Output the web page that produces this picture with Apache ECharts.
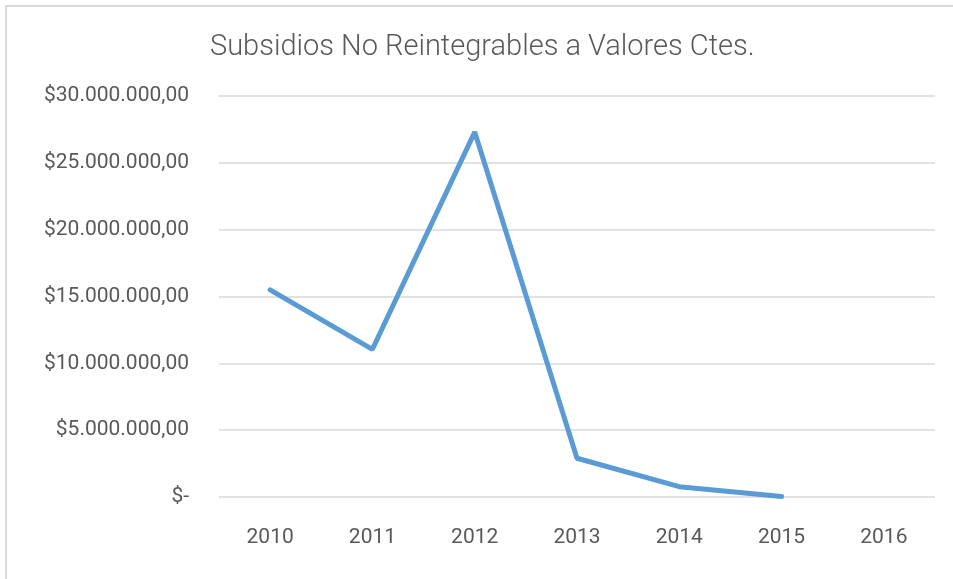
<!DOCTYPE html>
<html lang="es">
<head>
    <meta charset="UTF-8">
    <title>Subsidios No Reintegrables</title>
    <script src="https://cdn.jsdelivr.net/npm/echarts@6/dist/echarts.min.js"></script>
    <style>
        html, body { margin: 0; padding: 0; background: #fff; }
        #frame { position: absolute; left: 5px; top: 5px; width: 960px; height: 580px; border: 2px solid #d9d9d9; box-sizing: border-box; }
        #chart { position: absolute; left: 0; top: 0; width: 953px; height: 579px; }
    </style>
</head>
<body>
    <div id="frame"></div>
    <div id="chart"></div>
    <script type="text/javascript">
        var years = ['2010', '2011', '2012', '2013', '2014', '2015', '2016'];
        var subsidios = [15500000, 11050000, 27300000, 2900000, 770000, 30000, null];
        var yTicks = [0, 5000000, 10000000, 15000000, 20000000, 25000000, 30000000];

        function fmt(v) {
            if (v === 0) return '$-';
            var s = String(Math.round(v)).replace(/\B(?=(\d{3})+(?!\d))/g, '.');
            return '$' + s + ',00';
        }

        var option = {
            title: {
                text: 'Subsidios No Reintegrables a Valores Ctes.',
                left: 205,
                top: 28,
                textStyle: { fontFamily: 'Roboto', fontWeight: 300, fontSize: 29, color: '#595959' }
            },
            grid: { left: 219, right: 18, top: 96, bottom: 82 },
            xAxis: {
                type: 'category',
                data: years,
                axisLine: { show: false },
                axisTick: { show: false },
                axisLabel: { margin: 30, fontSize: 21, color: '#595959', fontFamily: 'Roboto' }
            },
            yAxis: {
                type: 'value',
                min: yTicks[0],
                max: yTicks[yTicks.length - 1],
                interval: 5000000,
                axisLine: { show: false },
                axisTick: { show: false },
                splitLine: { lineStyle: { color: '#d9d9d9', width: 1.5 } },
                axisLabel: { margin: 30, fontSize: 21, color: '#595959', fontFamily: 'Roboto', formatter: fmt }
            },
            series: [{
                type: 'line',
                data: subsidios,
                symbol: 'none',
                lineStyle: { color: '#5b9bd5', width: 5, cap: 'round' },
                itemStyle: { color: '#5b9bd5' }
            }]
        };
        var myChart = echarts.init(document.getElementById('chart'));
        myChart.setOption(option);
    </script>
</body>
</html>
